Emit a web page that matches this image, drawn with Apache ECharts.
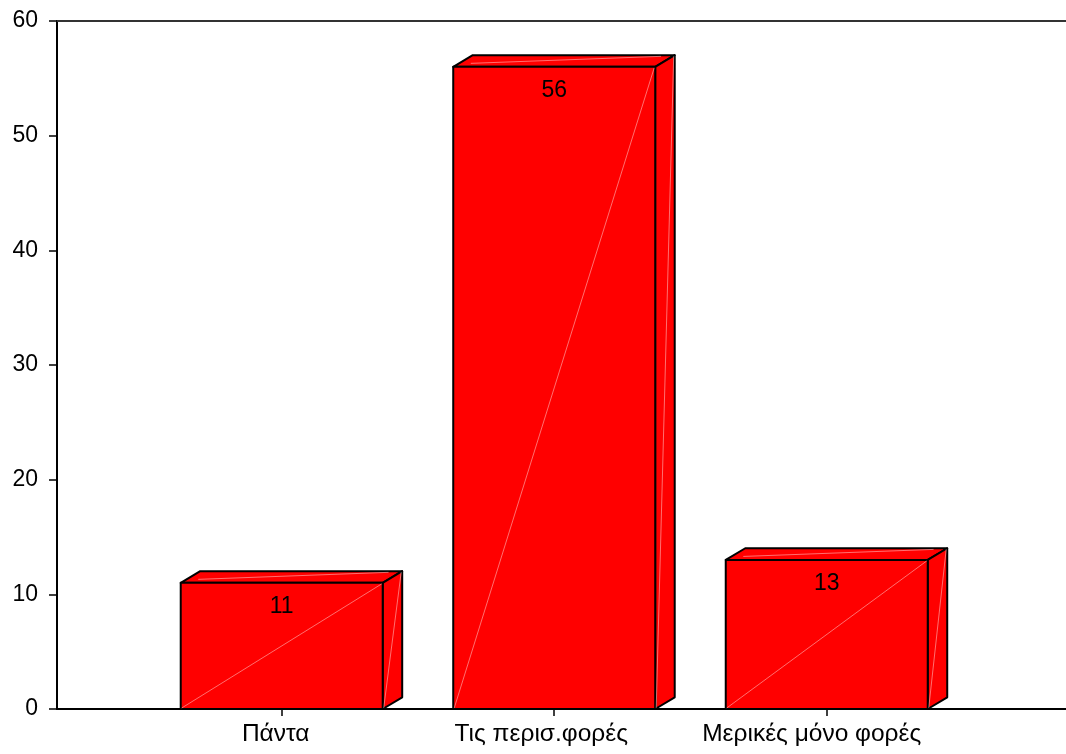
<!DOCTYPE html>
<html>
<head>
<meta charset="utf-8">
<script src="https://cdn.jsdelivr.net/npm/echarts@6/dist/echarts.min.js"></script>
<style>html,body{margin:0;padding:0;background:#fff}#c{width:1066px;height:754px}</style>
</head>
<body>
<div id="c"></div>
<script>
const categories = ['Πάντα', 'Τις περισ.φορές', 'Μερικές μόνο φορές'];
const values = [11, 56, 13];
const yTicks = [0, 10, 20, 30, 40, 50, 60];

const positions = categories.map((c, i) => i + 1);
const seriesData = values.map((v, i) => [positions[i], v]);

const chart = echarts.init(document.getElementById('c'), null, {renderer: 'canvas'});
const FONT = 'Liberation Sans, Arial, sans-serif';
const halfW = 0.3706;
const DX = 19.5, DY = -11.7;

function renderItem(params, api) {
  const x = api.value(0), v = api.value(1);
  const tl = api.coord([x - halfW, v]);
  const br = api.coord([x + halfW, 0]);
  const x0 = tl[0], x1 = br[0], y0 = tl[1], y1 = br[1];
  const stroke = {stroke: '#000', lineWidth: 2, lineJoin: 'round'};
  const hl = {stroke: 'rgba(255,255,255,0.55)', lineWidth: 0.8};
  return {
    type: 'group',
    children: [
      {type: 'polygon', shape: {points: [[x0, y0], [x1, y0], [x1 + DX, y0 + DY], [x0 + DX, y0 + DY]]}, style: Object.assign({fill: '#ff0000'}, stroke)},
      {type: 'polygon', shape: {points: [[x1, y0], [x1 + DX, y0 + DY], [x1 + DX, y1 + DY], [x1, y1]]}, style: Object.assign({fill: '#ff0000'}, stroke)},
      {type: 'rect', shape: {x: x0, y: y0, width: x1 - x0, height: y1 - y0}, style: Object.assign({fill: '#ff0000'}, stroke)},
      {type: 'line', shape: {x1: x0 + 1, y1: y1 - 1, x2: x1 - 1, y2: y0 + 1}, style: hl},
      {type: 'line', shape: {x1: x1 + 1, y1: y1 - 1, x2: x1 + DX - 1, y2: y0 + DY + 1}, style: hl},
      {type: 'line', shape: {x1: x0 + DX * 0.9, y1: y0 + DY * 0.3, x2: x1 + DX * 0.3, y2: y0 + DY * 0.9}, style: hl},
      {type: 'text', style: {x: (x0 + x1) / 2, y: y0 + 24, text: String(v), fill: '#000', font: '23px ' + FONT, align: 'center', verticalAlign: 'middle'}}
    ]
  };
}

const labelRich = {
  c0: {fontSize: 24.5, fontFamily: FONT, color: '#000', padding: [0, 12, 0, 0]},
  c1: {fontSize: 24.5, fontFamily: FONT, color: '#000', padding: [0, 26, 0, 0]},
  c2: {fontSize: 24.5, fontFamily: FONT, color: '#000', padding: [0, 30, 0, 0]}
};

chart.setOption({
  animation: false,
  backgroundColor: '#fff',
  grid: {left: 57, right: 0, top: 21, bottom: 45, containLabel: false},
  xAxis: [{
    type: 'value', min: 0.1754, max: 3.878,
    splitLine: {show: false},
    axisLine: {show: true, lineStyle: {color: '#000', width: 2}},
    axisTick: {show: true, customValues: positions, length: 7, lineStyle: {color: '#000', width: 1.5}},
    axisLabel: {show: true, customValues: positions, margin: 13, color: '#000', fontSize: 24.5, fontFamily: FONT,
      rich: labelRich,
      formatter: v => { const i = Math.round(v) - 1; return categories[i] ? '{c' + i + '|' + categories[i] + '}' : ''; }}
  }, {
    type: 'value', position: 'top', min: 0.1754, max: 3.878,
    splitLine: {show: false},
    axisLine: {show: true, lineStyle: {color: '#333', width: 2}},
    axisTick: {show: false}, axisLabel: {show: false}
  }],
  yAxis: {
    type: 'value', min: yTicks[0], max: yTicks[yTicks.length - 1], interval: 10,
    splitLine: {show: false},
    axisLine: {show: true, lineStyle: {color: '#000', width: 2}},
    axisTick: {show: true, length: 8, lineStyle: {color: '#000', width: 1.5}},
    axisLabel: {color: '#000', fontSize: 23, fontFamily: FONT, margin: 19}
  },
  series: [{
    type: 'custom', renderItem: renderItem, data: seriesData, xAxisIndex: 0, clip: false,
    encode: {x: 0, y: 1}
  }]
});
</script>
</body>
</html>
